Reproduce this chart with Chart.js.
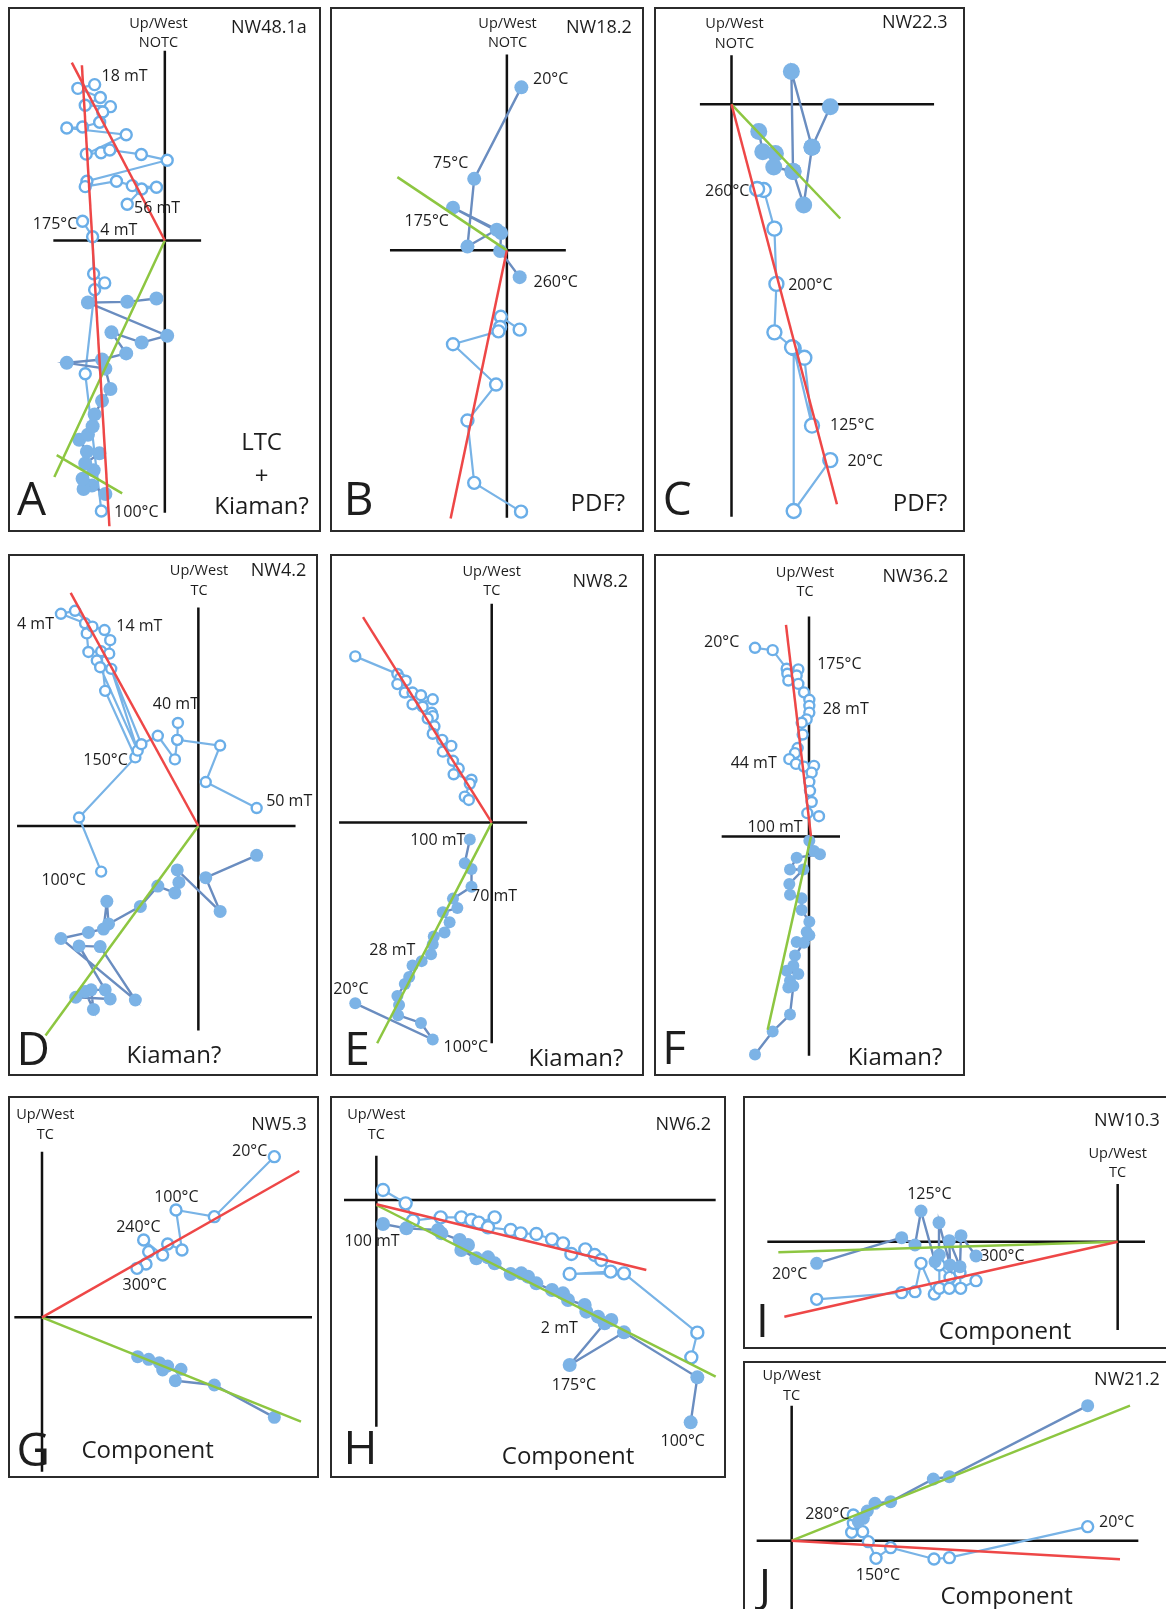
<!DOCTYPE html>
<html>
<head>
<meta charset="utf-8">
<script src="https://cdn.jsdelivr.net/npm/chart.js@4.4.1/dist/chart.umd.min.js"></script>
<style>
  html, body { margin: 0; padding: 0; background: #fff; }
  body { width: 1166px; height: 1609px; position: relative; overflow: hidden; }
  .panel { position: absolute; }
  .panel canvas { position: absolute; left: 0; top: 0; }
  .frame { position: absolute; left: 0; top: 0; border: 2.5px solid #2b2b2b; box-sizing: border-box; pointer-events: none; }
</style>
</head>
<body>
<script>
// ---- data: values, arbitrary units, origin at axis crossing ----

// A  NW48.1a
const A_open = [[-2.09,4.60],[-2.59,4.49],[-1.92,4.22],[-2.37,3.99],[-1.62,3.95],[-1.85,3.79],[-1.94,3.49],[-2.45,3.35],[-2.92,3.32],[-1.15,3.12],[-2.34,2.55],[-1.90,2.59],[-1.64,2.67],[-0.70,2.54],[0.07,2.37],[-2.32,1.75],[-2.37,1.59],[-1.44,1.75],[-0.97,1.62],[-0.25,1.57],[-0.69,1.52],[-1.12,1.07]];
const A_open2 = [[-2.45,0.57],[-2.15,0.11],[-2.12,-0.98],[-1.79,-1.25],[-2.09,-1.45],[-2.37,-3.93],[-1.89,-7.98]];
const A_filled = [[-1.77,-7.48],[-2.17,-7.23],[-2.42,-7.33],[-2.45,-7.03],[-2.12,-6.78],[-2.37,-6.58],[-1.95,-6.28],[-2.32,-6.23],[-2.55,-5.88],[-2.29,-5.73],[-2.15,-5.48],[-2.09,-5.13],[-1.87,-4.73],[-1.62,-4.38],[-1.77,-3.78],[-2.92,-3.61],[-1.87,-3.51],[-1.15,-3.33],[-1.59,-2.71],[-0.69,-3.01],[0.07,-2.81],[-2.29,-1.83],[-1.12,-1.81],[-0.25,-1.71]];
const A_red = [[[-2.77,5.25],[0,0]], [[-2.47,5.17],[-1.65,-8.43]]];
const A_green = [[[0,0],[-3.29,-6.98]], [[-3.22,-6.33],[-1.27,-7.46]]];
const A_axisV = [[0,5.60],[0,-8.03]];
const A_axisH = [[-3.32,0],[1.08,0]];
const A_steps = [[-1.20,4.87,'18 mT'],[-0.23,0.99,'56 mT'],[-3.27,0.52,'175°C'],[-1.37,0.32,'4 mT'],[-0.85,-7.98,'100°C']];

// B  NW18.2
const B_filled = [[0.43,4.81],[-0.97,2.11],[-1.17,0.11],[-0.30,0.61],[-1.60,1.26],[-0.17,0.51],[-0.20,-0.02],[0.38,-0.79]];
const B_open = [[0.38,-2.34],[-0.18,-1.96],[-0.20,-2.26],[-0.25,-2.39],[-1.60,-2.77],[-0.32,-3.96],[-1.17,-5.02],[-0.97,-6.86],[0.42,-7.71]];
const B_red = [[[0,0],[-1.67,-7.91]]];
const B_green = [[[-3.25,2.16],[0,0]]];
const B_axisV = [[0,5.78],[0,-7.89]];
const B_axisH = [[-3.47,0],[1.75,0]];
const B_steps = [[1.30,5.08,'20°C'],[-1.67,2.61,'75°C'],[-2.38,0.88,'175°C'],[1.45,-0.92,'260°C']];

// C  NW22.3
const C_filled = [[0.82,-0.80],[0.94,-1.40],[1.32,-1.45],[1.27,-1.85],[1.85,-1.98],[1.80,0.97],[2.42,-1.27],[2.97,-0.07]];
const C_filled2 = [[2.42,-1.27],[2.17,-2.97],[1.85,-1.98]];
const C_open = [[2.97,-10.50],[1.87,-12.00],[1.87,-7.20],[2.42,-9.48],[2.19,-7.48],[1.82,-7.17],[1.29,-6.73],[1.35,-5.30],[1.29,-3.67],[0.97,-2.53],[0.77,-2.50]];
const C_red = [[[0,0],[3.17,-11.80]]];
const C_green = [[[0,0],[3.27,-3.37]]];
const C_axisV = [[0,1.45],[0,-12.17]];
const C_axisH = [[-0.95,0],[6.09,0]];
const C_steps = [[-0.13,-2.53,'260°C'],[2.37,-5.30,'200°C'],[3.63,-9.45,'125°C'],[4.02,-10.50,'20°C']];

// D  NW4.2
const D_open = [[-2.90,-1.35],[-3.56,0.25],[-1.88,2.03],[-2.78,4.00],[-2.90,5.17],[-3.28,5.15],[-3.33,5.70],[-3.38,6.00],[-4.10,6.28],[-3.68,6.37],[-3.16,5.90],[-2.80,5.80],[-2.63,5.50],[-2.66,5.10],[-3.03,4.90],[-2.93,4.70],[-1.81,2.23],[-2.60,4.65],[-1.70,2.42],[-1.21,2.67],[-0.70,1.97],[-0.63,2.55],[-0.61,3.05],[-0.63,2.55],[0.65,2.38],[0.22,1.30],[1.74,0.53]];
const D_filled = [[1.74,-0.87],[0.22,-1.53],[0.65,-2.53],[-0.63,-1.30],[-0.58,-1.67],[-0.70,-1.98],[-1.21,-1.78],[-1.73,-2.38],[-2.68,-2.90],[-2.73,-2.23],[-2.83,-3.05],[-3.28,-3.15],[-4.10,-3.33],[-1.88,-5.15],[-2.93,-3.57],[-3.56,-3.55],[-2.78,-4.85],[-3.20,-4.85],[-3.13,-5.43],[-3.38,-4.90],[-3.66,-5.07],[-2.63,-5.12]];
const D_red = [[[-3.81,6.90],[0,0]]];
const D_green = [[[0,0],[-4.56,-6.20]]];
const D_axisV = [[0,6.47],[0,-6.05]];
const D_axisH = [[-5.41,0],[2.90,0]];
const D_steps = [[-4.86,6.00,'4 mT'],[-1.76,5.95,'14 mT'],[-0.67,3.62,'40 mT'],[-2.77,1.97,'150°C'],[2.71,0.77,'50 mT'],[-4.02,-1.58,'100°C']];

// E  NW8.2
const E_open = [[-4.05,4.92],[-2.80,4.40],[-2.72,4.27],[-2.55,4.20],[-2.80,4.10],[-2.58,3.85],[-2.35,3.85],[-2.10,3.77],[-1.75,3.65],[-2.35,3.50],[-2.05,3.43],[-1.78,3.25],[-1.75,3.15],[-1.90,3.08],[-1.70,2.85],[-1.75,2.63],[-1.47,2.45],[-1.20,2.27],[-1.45,2.10],[-1.15,1.83],[-0.98,1.60],[-1.13,1.43],[-0.60,1.27],[-0.65,1.15],[-0.80,0.77],[-0.68,0.67]];
const E_filled = [[-4.05,-5.35],[-1.75,-6.42],[-2.10,-5.93],[-2.78,-5.70],[-2.75,-5.40],[-2.80,-5.13],[-2.58,-4.78],[-2.45,-4.57],[-2.35,-4.23],[-2.08,-4.10],[-1.80,-3.90],[-1.75,-3.60],[-1.72,-3.37],[-1.40,-3.25],[-1.25,-2.95],[-1.45,-2.65],[-1.02,-2.53],[-1.15,-2.25],[-0.60,-1.90],[-0.60,-1.37],[-0.80,-1.20],[-0.65,-0.50]];
const E_red = [[[-3.82,6.08],[0,0]]];
const E_green = [[[0,0],[-3.40,-6.53]]];
const E_axisV = [[0,6.48],[0,-6.53]];
const E_axisH = [[-4.53,0],[1.05,0]];
const E_steps = [[-1.60,-0.50,'100 mT'],[0.07,-2.15,'70 mT'],[-2.95,-3.75,'28 mT'],[-4.18,-4.90,'20°C'],[-0.77,-6.63,'100°C']];

// F  NW36.2
const F_open = [[-1.62,5.59],[-1.09,5.52],[-0.67,4.97],[-0.32,4.95],[-0.65,4.82],[-0.37,4.77],[-0.62,4.62],[-0.32,4.52],[-0.15,4.27],[0.01,4.05],[0.01,3.87],[0.01,3.67],[-0.07,3.47],[-0.22,3.37],[-0.19,3.02],[-0.34,2.62],[-0.42,2.47],[-0.59,2.29],[-0.39,2.15],[-0.15,2.07],[0.15,2.09],[0.08,1.89],[0.01,1.62],[0.03,1.35],[0.08,1.02],[-0.05,0.69],[0.30,0.60]];
const F_filled = [[0.01,-0.13],[0.15,-0.43],[0.33,-0.53],[-0.37,-0.63],[-0.57,-0.98],[-0.17,-0.98],[-0.59,-1.41],[-0.57,-1.73],[-0.22,-1.83],[-0.22,-2.18],[0.01,-2.53],[-0.07,-2.83],[0.01,-2.93],[-0.37,-3.13],[-0.15,-3.15],[-0.42,-3.53],[-0.47,-3.83],[-0.67,-3.98],[-0.32,-4.08],[-0.57,-4.28],[-0.62,-4.48],[-0.47,-4.43],[-0.57,-5.28],[-1.09,-5.78],[-1.62,-6.46]];
const F_red = [[[-0.69,6.27],[0.06,0]]];
const F_green = [[[0.06,0],[-1.24,-5.73]]];
const F_axisV = [[0,6.52],[0,-6.50]];
const F_axisH = [[-2.62,0],[0.93,0]];
const F_steps = [[-2.62,5.77,'20°C'],[0.91,5.12,'175°C'],[1.10,3.79,'28 mT'],[-1.66,2.19,'44 mT'],[-1.02,0.29,'100 mT']];

// G  NW5.3
const G_open = [[6.97,4.82],[5.17,3.02],[4.02,3.22],[4.20,2.02],[3.77,2.20],[3.62,1.87],[3.05,2.32],[3.20,1.97],[3.12,1.60],[2.85,1.47]];
const G_filled = [[2.87,-1.18],[3.20,-1.26],[3.52,-1.36],[3.77,-1.46],[3.62,-1.58],[4.17,-1.56],[4.00,-1.90],[5.17,-2.03],[6.97,-3.00]];
const G_red = [[[0,0],[7.72,4.39]]];
const G_green = [[[0,0],[7.77,-3.13]]];
const G_axisV = [[0,4.97],[0,-4.63]];
const G_axisH = [[-0.83,0],[8.10,0]];
const G_steps = [[6.23,5.02,'20°C'],[4.03,3.64,'100°C'],[2.89,2.74,'240°C'],[3.08,1.00,'300°C']];

// H  NW6.2
const H_open = [[0.20,0.30],[0.88,-0.10],[1.10,-0.62],[1.93,-0.52],[2.55,-0.52],[2.85,-0.60],[3.07,-0.68],[3.55,-0.52],[3.35,-0.82],[4.03,-0.90],[4.33,-1.00],[4.80,-1.02],[5.27,-1.18],[5.60,-1.30],[5.85,-1.62],[6.27,-1.48],[6.55,-1.65],[6.75,-1.80],[7.03,-2.15],[5.80,-2.22],[7.43,-2.20],[9.63,-3.98],[9.45,-4.72]];
const H_filled = [[0.20,-0.72],[0.90,-0.85],[1.85,-0.90],[1.95,-1.00],[2.50,-1.20],[2.75,-1.35],[2.55,-1.50],[3.00,-1.75],[3.35,-1.72],[3.55,-1.90],[4.03,-2.22],[4.35,-2.20],[4.55,-2.30],[4.80,-2.50],[5.27,-2.70],[5.60,-2.80],[5.75,-3.00],[6.25,-3.15],[6.30,-3.35],[6.65,-3.50],[7.05,-3.60],[6.85,-3.70],[5.80,-4.95],[7.43,-3.97],[9.63,-5.32],[9.43,-6.67]];
const H_red = [[[0,-0.13],[8.10,-2.10]]];
const H_green = [[[0,-0.15],[10.18,-5.30]]];
const H_axisV = [[0,1.33],[0,-6.80]];
const H_axisH = [[-0.97,0],[10.18,0]];
const H_steps = [[-0.13,-1.20,'100 mT'],[5.49,-3.82,'2 mT'],[5.93,-5.52,'175°C'],[9.19,-7.22,'100°C']];

// I  NW10.3
const I_filled = [[-9.03,-0.65],[-6.48,0.12],[-6.08,-0.10],[-5.90,0.92],[-5.48,-0.60],[-5.35,-0.40],[-5.36,0.57],[-5.03,-0.70],[-5.05,0.03],[-4.73,-0.75],[-4.70,0.18],[-4.25,-0.43]];
const I_open = [[-9.03,-1.73],[-6.48,-1.53],[-6.08,-1.50],[-5.90,-0.65],[-5.50,-1.57],[-5.35,-1.40],[-5.35,-0.70],[-5.03,-1.07],[-5.05,-1.40],[-4.73,-0.93],[-4.71,-1.40],[-4.25,-1.17]];
const I_red = [[[-10.00,-2.25],[0,0]]];
const I_green = [[[-10.18,-0.32],[0,0]]];
const I_axisV = [[0,1.73],[0,-2.65]];
const I_axisH = [[-10.51,0],[0.82,0]];
const I_steps = [[-5.65,1.45,'125°C'],[-3.46,-0.40,'300°C'],[-9.84,-0.95,'20°C']];

// J  NW21.2
const J_filled = [[8.88,4.05],[4.73,1.92],[4.25,1.85],[2.97,1.17],[2.50,1.12],[2.27,0.89],[2.15,0.67],[2.00,0.57]];
const J_open = [[8.88,0.42],[4.73,-0.51],[4.27,-0.55],[2.97,-0.21],[2.53,-0.53],[2.30,-0.03],[2.13,0.27],[1.80,0.25],[1.85,0.52],[1.85,0.77]];
const J_red = [[[0,0],[9.85,-0.56]]];
const J_green = [[[0,0],[10.15,4.05]]];
const J_axisV = [[0,4.05],[0,-2.20]];
const J_axisH = [[-1.05,0],[10.40,0]];
const J_steps = [[1.07,0.82,'280°C'],[9.75,0.57,'20°C'],[2.59,-1.01,'150°C']];

// ---- styling ----
const OPEN_EDGE = '#6aaee8';
const OPEN_LINE = '#78b3e6';
const FILL_DOT = '#7cb3e6';
const FILL_LINE = '#6a8dc0';
const RED = '#ee4747';
const GREEN = '#8dc641';
const FONT = '"Open Sans", "DejaVu Sans", sans-serif';
const AX = 14.5, NAME = 18, BIG = 24, LETTER = 46, STEP = 16;

// panel layout: box = [left, top, width, height] on the page, ranges of the hidden scales
const panels = [
  { box: [8, 7, 313, 525], x: [-4.67, 4.65], y: [-8.60, 6.89], rO: 5.5, rF: 7,
    open: [A_open, A_open2], filled: [A_filled], red: A_red, green: A_green, axV: A_axisV, axH: A_axisH, steps: A_steps,
    notes: [[-0.19,6.42,'Up/West',AX],[-0.19,5.87,'NOTC',AX],[3.10,6.32,'NW48.1a',NAME],[-3.97,-7.61,'A',LETTER],
            [2.88,-5.93,'LTC',BIG],[2.88,-6.93,'+',BIG],[2.88,-7.81,'Kiaman?',BIG]] },
  { box: [330, 7, 314, 525], x: [-5.25, 4.07], y: [-8.31, 7.18], rO: 6, rF: 7,
    open: [B_open], filled: [B_filled], red: B_red, green: B_green, axV: B_axisV, axH: B_axisH, steps: B_steps,
    notes: [[0.02,6.71,'Up/West',AX],[0.02,6.16,'NOTC',AX],[2.73,6.61,'NW18.2',NAME],[-4.40,-7.32,'B',LETTER],[2.70,-7.44,'PDF?',BIG]] },
  { box: [654, 7, 311, 525], x: [-2.33, 7.02], y: [-12.62, 2.87], rO: 7, rF: 8.5,
    open: [C_open], filled: [C_filled, C_filled2], red: C_red, green: C_green, axV: C_axisV, axH: C_axisH, steps: C_steps,
    notes: [[0.09,2.40,'Up/West',AX],[0.09,1.82,'NOTC',AX],[5.51,2.45,'NW22.3',NAME],[-1.63,-11.63,'C',LETTER],[5.67,-11.75,'PDF?',BIG]] },
  { box: [8, 554, 310, 522], x: [-5.68, 3.57], y: [-7.40, 8.05], rO: 5, rF: 6.5,
    open: [D_open], filled: [D_filled], red: D_red, green: D_green, axV: D_axisV, axH: D_axisH, steps: D_steps,
    notes: [[0.02,7.57,'Up/West',AX],[0.02,7.00,'TC',AX],[2.39,7.60,'NW4.2',NAME],[-4.93,-6.58,'D',LETTER],[-0.73,-6.75,'Kiaman?',BIG]] },
  { box: [330, 554, 314, 522], x: [-4.80, 4.52], y: [-7.50, 7.95], rO: 5, rF: 6,
    open: [E_open], filled: [E_filled], red: E_red, green: E_green, axV: E_axisV, axH: E_axisH, steps: E_steps,
    notes: [[0,7.45,'Up/West',AX],[0,6.88,'TC',AX],[3.22,7.17,'NW8.2',NAME],[-4.00,-6.68,'E',LETTER],[2.50,-6.95,'Kiaman?',BIG]] },
  { box: [654, 554, 311, 522], x: [-4.65, 4.68], y: [-7.10, 8.37], rO: 5, rF: 6,
    open: [F_open], filled: [F_filled], red: F_red, green: F_green, axV: F_axisV, axH: F_axisH, steps: F_steps,
    notes: [[-0.12,7.84,'Up/West',AX],[-0.12,7.27,'TC',AX],[3.19,7.72,'NW36.2',NAME],[-4.05,-6.26,'F',LETTER],[2.58,-6.53,'Kiaman?',BIG]] },
  { box: [8, 1096, 311, 382], x: [-1.02, 8.31], y: [-4.82, 6.64], rO: 5.5, rF: 6.5,
    open: [G_open], filled: [G_filled], red: G_red, green: G_green, axV: G_axisV, axH: G_axisH, steps: G_steps,
    notes: [[0.10,6.10,'Up/West',AX],[0.10,5.52,'TC',AX],[7.11,5.82,'NW5.3',NAME],[-0.26,-3.96,'G',LETTER],[3.17,-3.96,'Component',BIG]] },
  { box: [330, 1096, 396, 382], x: [-1.39, 10.49], y: [-8.34, 3.12], rO: 6, rF: 7,
    open: [H_open], filled: [H_filled], red: H_red, green: H_green, axV: H_axisV, axH: H_axisH, steps: H_steps,
    notes: [[0,2.58,'Up/West',AX],[0,2.00,'TC',AX],[9.21,2.30,'NW6.2',NAME],[-0.48,-7.43,'H',LETTER],[5.75,-7.65,'Component',BIG]] },
  { box: [743, 1096, 423, 253], frame: [460, 253], x: [-11.24, 1.45], y: [-3.22, 4.37], rO: 5.5, rF: 6.5,
    open: [I_open], filled: [I_filled], red: I_red, green: I_green, axV: I_axisV, axH: I_axisH, steps: I_steps,
    notes: [[0,2.67,'Up/West',AX],[0,2.10,'TC',AX],[0.28,3.65,'NW10.3',NAME],[-10.66,-2.37,'I',LETTER],[-3.38,-2.67,'Component',BIG]] },
  { box: [743, 1361, 423, 248], frame: [460, 290], x: [-1.46, 11.23], y: [-2.05, 5.39], rO: 5.5, rF: 6.5,
    open: [J_open], filled: [J_filled], red: J_red, green: J_green, axV: J_axisV, axH: J_axisH, steps: J_steps,
    notes: [[0,4.97,'Up/West',AX],[0,4.39,'TC',AX],[10.06,4.85,'NW21.2',NAME],[-0.80,-1.33,'J',LETTER],[6.45,-1.63,'Component',BIG]] },
];

const toXY = (arr) => arr.map((p) => ({ x: p[0], y: p[1] }));

function lineSet(points, color, width, order) {
  return { data: toXY(points), showLine: true, borderColor: color, borderWidth: width,
           pointRadius: 0, fill: false, order };
}

// draws step labels and panel captions; the anchor is the centre of the capitals
function notesPlugin(p) {
  const put = (ctx, txt, px, py, size) => {
    ctx.font = size + 'px ' + FONT;
    ctx.fillText(txt, px, py + size * 0.36);
  };
  return {
    id: 'notes',
    afterDraw(chart) {
      const { ctx } = chart;
      const sx = chart.scales.x, sy = chart.scales.y;
      ctx.save();
      ctx.fillStyle = '#1d1d1d';
      ctx.textAlign = 'center';
      ctx.textBaseline = 'alphabetic';
      p.steps.forEach((s) => put(ctx, s[2], sx.getPixelForValue(s[0]), sy.getPixelForValue(s[1]), STEP));
      p.notes.forEach((n) => put(ctx, n[2], sx.getPixelForValue(n[0]), sy.getPixelForValue(n[1]), n[3]));
      ctx.restore();
    },
  };
}

function makePanel(p) {
  const wrap = document.createElement('div');
  wrap.className = 'panel';
  wrap.style.left = p.box[0] + 'px';
  wrap.style.top = p.box[1] + 'px';
  wrap.style.width = p.box[2] + 'px';
  wrap.style.height = p.box[3] + 'px';

  const canvas = document.createElement('canvas');
  canvas.width = p.box[2];
  canvas.height = p.box[3];
  canvas.style.width = p.box[2] + 'px';
  canvas.style.height = p.box[3] + 'px';
  wrap.appendChild(canvas);

  const frame = document.createElement('div');
  frame.className = 'frame';
  const fs = p.frame || [p.box[2], p.box[3]];
  frame.style.width = fs[0] + 'px';
  frame.style.height = fs[1] + 'px';
  wrap.appendChild(frame);
  document.body.appendChild(wrap);

  const datasets = [];
  datasets.push(lineSet(p.axV, '#111', 2.5, 5));
  datasets.push(lineSet(p.axH, '#111', 2.5, 5));
  p.open.forEach((s) => datasets.push({
    data: toXY(s), showLine: true, borderColor: OPEN_LINE, borderWidth: 2.2,
    pointRadius: p.rO, pointBackgroundColor: '#fff', pointBorderColor: OPEN_EDGE, pointBorderWidth: 2.4,
    order: 3,
  }));
  p.filled.forEach((s) => datasets.push({
    data: toXY(s), showLine: true, borderColor: FILL_LINE, borderWidth: 2.4,
    pointRadius: p.rF, pointBackgroundColor: FILL_DOT, pointBorderColor: FILL_DOT, pointBorderWidth: 0,
    order: 2,
  }));
  p.red.forEach((s) => datasets.push(lineSet(s, RED, 2.5, 1)));
  p.green.forEach((s) => datasets.push(lineSet(s, GREEN, 2.5, 1)));

  new Chart(canvas, {
    type: 'scatter',
    data: { datasets },
    options: {
      responsive: false,
      animation: false,
      devicePixelRatio: 1,
      events: [],
      // no automatic padding, so the hidden scales span the whole canvas
      layout: { padding: 0, autoPadding: false },
      plugins: { legend: { display: false }, tooltip: { enabled: false } },
      scales: {
        x: { type: 'linear', display: false, min: p.x[0], max: p.x[1] },
        y: { type: 'linear', display: false, min: p.y[0], max: p.y[1] },
      },
    },
    plugins: [notesPlugin(p)],
  });
}

panels.forEach(makePanel);
</script>
</body>
</html>
